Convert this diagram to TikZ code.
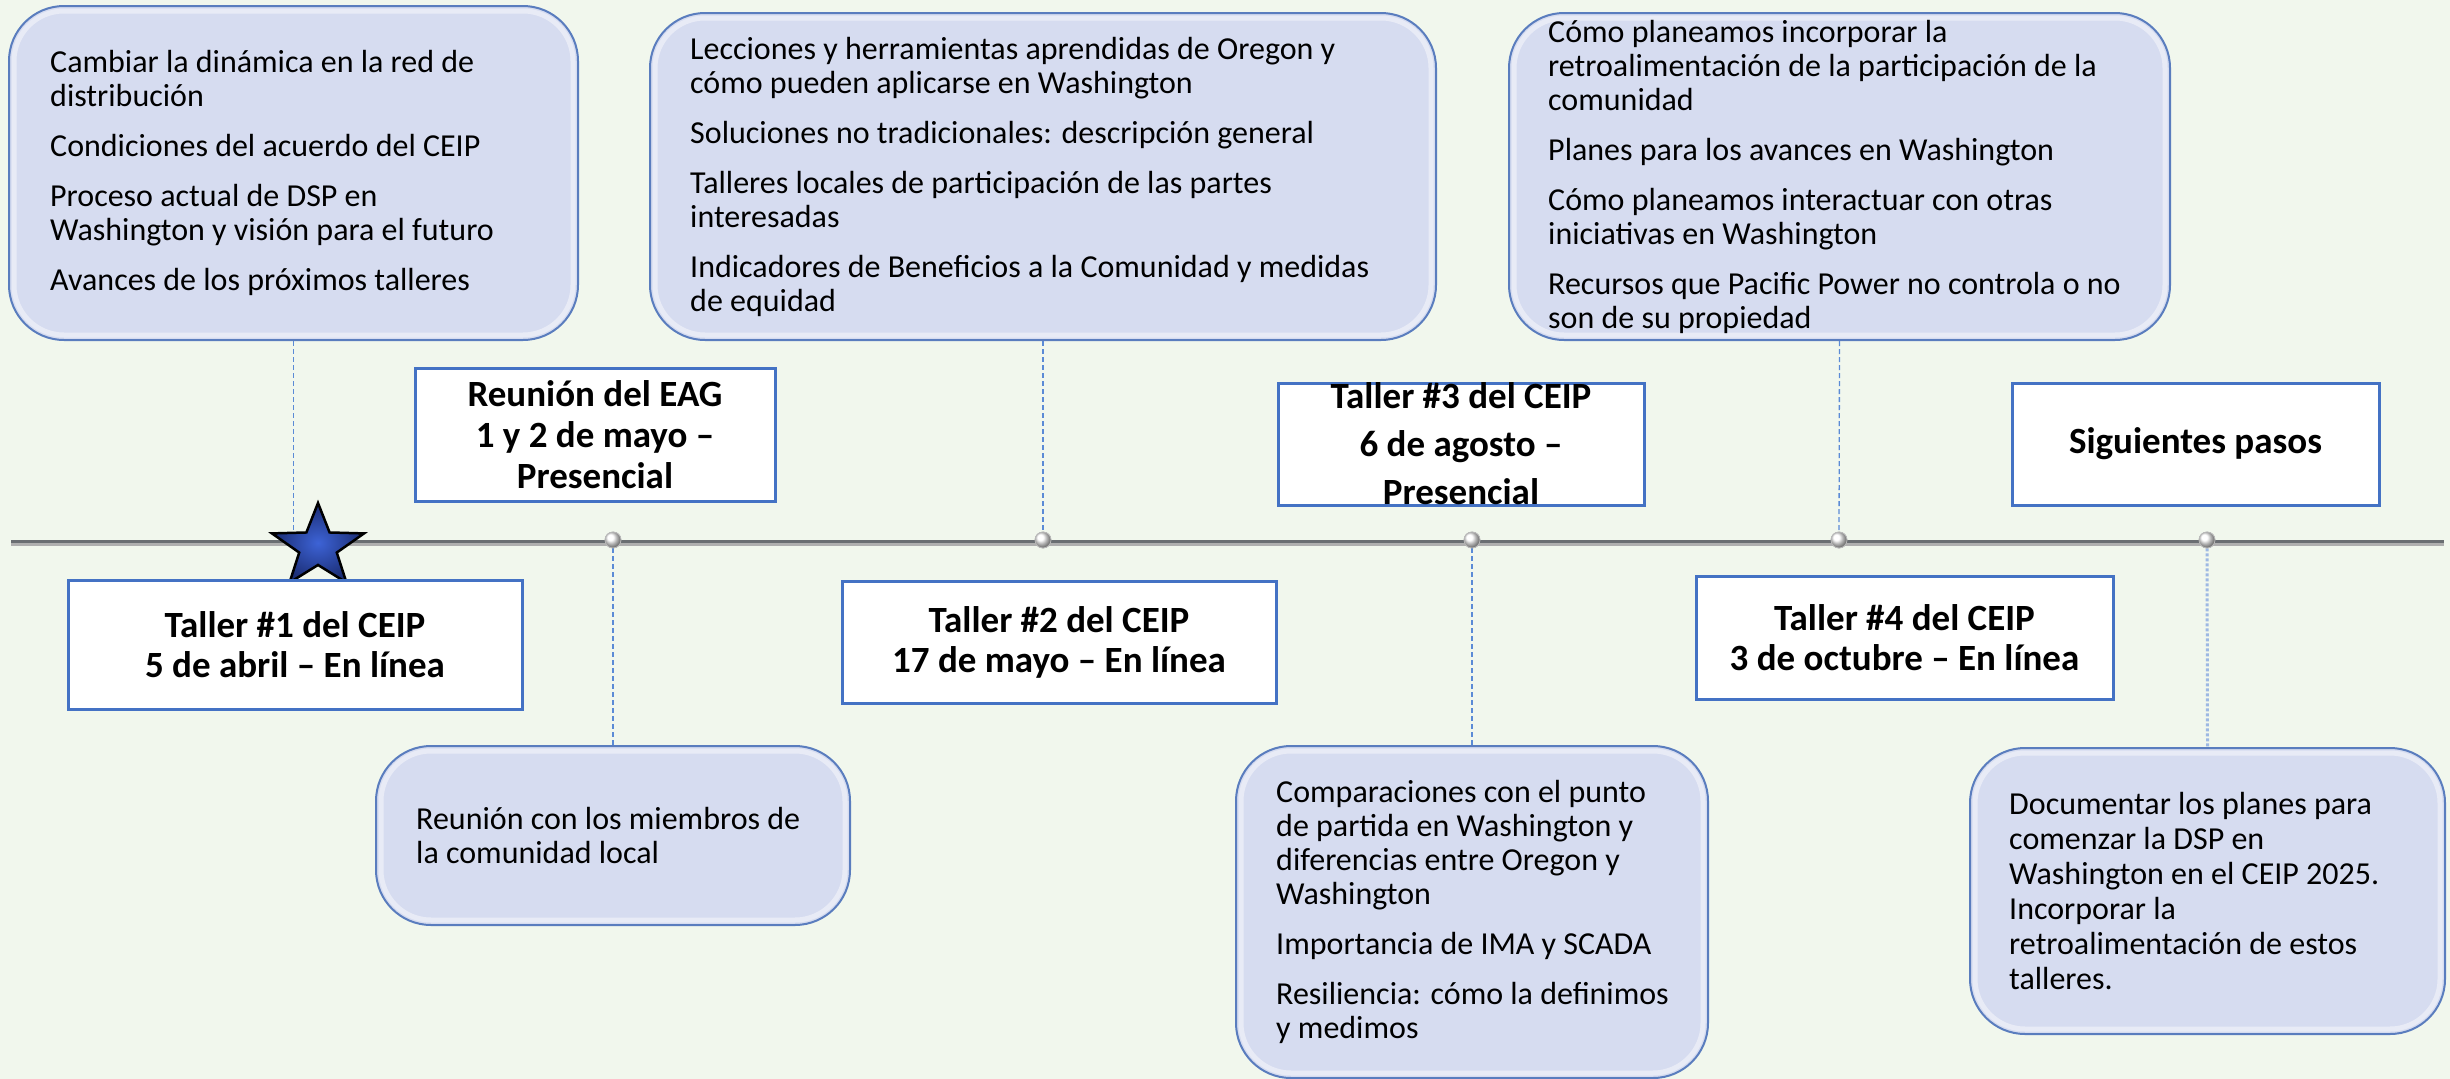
\documentclass[tikz,border=0pt]{standalone}
\usepackage{fontspec}
\setmainfont{Carlito}
\usetikzlibrary{shapes.geometric}
\definecolor{bg}{HTML}{F1F7ED}
\definecolor{boxfill}{HTML}{D6DCF0}
\definecolor{boxline}{HTML}{5A7DBE}
\definecolor{lblline}{HTML}{4472C4}
\definecolor{dashc}{HTML}{5B8BD6}
\definecolor{dotc}{HTML}{9DB8E3}
\definecolor{starc}{HTML}{3D63D6}
\definecolor{stard}{HTML}{1A2C72}
\definecolor{tlgray}{HTML}{8C8C8C}
\definecolor{tldark}{HTML}{6A6E72}
\newcommand{\pg}{\\[16pt]}
\begin{document}
\begin{tikzpicture}[x=1pt,y=-1pt,
  roundbox/.style={draw=boxline, line width=2pt, fill=boxfill, rounded corners=55pt, inner sep=0pt},
  glow/.style={draw=white, line width=5pt, opacity=0.45, rounded corners=50pt},
  bodytext/.style={anchor=west, align=left, inner sep=0pt, font=\fontsize{32}{34}\selectfont, text=black},
  labelbox/.style={draw=lblline, line width=3pt, fill=white, inner sep=0pt},
  labeltext/.style={align=center, inner sep=0pt, font=\fontsize{37}{40}\selectfont\bfseries, text=black},
  linkdash/.style={draw=dashc, line width=1.3pt, dash pattern=on 5pt off 3pt},
  linkdot/.style={draw=dotc, line width=3pt, dash pattern=on 3pt off 2pt},
  pin/.style={circle, minimum size=16pt, inner sep=0pt, draw=gray!55, line width=0.8pt, ball color=white}
]
\fill[bg] (0,0) rectangle (2450,1079);
\useasboundingbox (0,0) rectangle (2450,1079);

% rounded content boxes
\node[roundbox, minimum width=569pt, minimum height=334pt] (A) at (293.5,173) {};
\node[roundbox, minimum width=786pt, minimum height=327pt] (B) at (1043,176.5) {};
\node[roundbox, minimum width=661pt, minimum height=327pt] (C) at (1839.5,176.5) {};
\node[roundbox, minimum width=474pt, minimum height=179pt] (D) at (613,835.5) {};
\node[roundbox, minimum width=472pt, minimum height=332pt] (E) at (1472,912) {};
\node[roundbox, minimum width=475pt, minimum height=286pt] (F) at (2207.5,891) {};
\foreach \n in {A,B,C,D,E,F}
  \draw[glow] ([shift={(6pt,6pt)}]\n.south west) rectangle ([shift={(-6pt,-6pt)}]\n.north east);

\node[bodytext] (Atext) at ([xshift=42pt]A.west) {Cambiar la dinámica en la red de\\distribución\pg
Condiciones del acuerdo del CEIP\pg
Proceso actual de DSP en\\Washington y visión para el futuro\pg
Avances de los próximos talleres};
\node[bodytext] (Btext) at ([xshift=41pt]B.west) {Lecciones y herramientas aprendidas de Oregon y\\cómo pueden aplicarse en Washington\pg
Soluciones no tradicionales: descripción general\pg
Talleres locales de participación de las partes\\interesadas\pg
Indicadores de Beneficios a la Comunidad y medidas\\de equidad};
\node[bodytext] (Ctext) at ([xshift=40pt]C.west) {Cómo planeamos incorporar la\\retroalimentación de la participación de la\\comunidad\pg
Planes para los avances en Washington\pg
Cómo planeamos interactuar con otras\\iniciativas en Washington\pg
Recursos que Pacific Power no controla o no\\son de su propiedad};
\node[bodytext] (Dtext) at ([xshift=41pt]D.west) {Reunión con los miembros de\\la comunidad local};
\node[bodytext] (Etext) at ([xshift=41pt]E.west) {Comparaciones con el punto\\de partida en Washington y\\diferencias entre Oregon y\\Washington\pg
Importancia de IMA y SCADA\pg
Resiliencia: cómo la definimos\\y medimos};
\node[bodytext, font=\fontsize{32}{35}\selectfont] (Ftext) at ([xshift=40pt]F.west) {Documentar los planes para\\comenzar la DSP en\\Washington en el CEIP 2025.\\Incorporar la\\retroalimentación de estos\\talleres.};

% timeline
\coordinate (tlL) at (11,543);
\coordinate (tlR) at (2444,543);

% connectors
\node[pin] (m1) at (613,540) {};
\node[pin] (m2) at (1043,540) {};
\node[pin] (m3) at (1472,540) {};
\node[pin] (m4) at (1839,540) {};
\node[pin] (m5) at (2207,540) {};
\draw[linkdash] (A.south) -- (A.south |- tlL);
\draw[linkdash] (m1) -- (D.north);
\draw[linkdash] (B.south) -- (m2);
\draw[linkdash] (m3) -- (E.north);
\draw[linkdash] (C.south) -- (m4);
\draw[linkdot] (m5) -- (F.north);

\draw[line width=6pt, draw=tlgray!70] (tlL) -- (tlR);
\draw[line width=3pt, draw=tldark] ([yshift=1.5pt]tlL) -- ([yshift=1.5pt]tlR);
\foreach \m in {m1,m2,m3,m4,m5}
  \node[pin] at (\m) {};

% star
\node[star, star points=5, star point ratio=2.45, minimum size=88pt, inner sep=0pt,
      draw=black, line width=2.5pt, inner color=starc, outer color=stard,
      xscale=1.1, transform shape] (star) at (318,547) {};

% label boxes
\node[labelbox, minimum width=454pt, minimum height=129pt] (t1) at (295,644.5) {};
\node[labeltext] (t1txt) at (t1.center) {Taller \#1 del CEIP\\5 de abril – En línea};
\node[labelbox, minimum width=360pt, minimum height=133pt] (reu) at (595,434.5) {};
\node[labeltext, font=\fontsize{37}{41}\selectfont\bfseries] (reutxt) at (reu.center) {Reunión del EAG\\1 y 2 de mayo –\\Presencial};
\node[labelbox, minimum width=434pt, minimum height=122pt] (t2) at (1059,642) {};
\node[labeltext] (t2txt) at (t2.center) {Taller \#2 del CEIP\\17 de mayo – En línea};
\node[labelbox, minimum width=366pt, minimum height=122pt] (t3) at (1461,444) {};
\node[labeltext] (t3txt) at (t3.center) {Taller \#3 del CEIP\\[8pt]6 de agosto –\\[8pt]Presencial};
\node[labelbox, minimum width=417pt, minimum height=123pt] (t4) at (1904.5,637.5) {};
\node[labeltext] (t4txt) at (t4.center) {Taller \#4 del CEIP\\3 de octubre – En línea};
\node[labelbox, minimum width=367pt, minimum height=122pt] (sig) at (2195.5,444) {};
\node[labeltext] (sigtxt) at (sig.center) {Siguientes pasos};
\end{tikzpicture}
\end{document}
